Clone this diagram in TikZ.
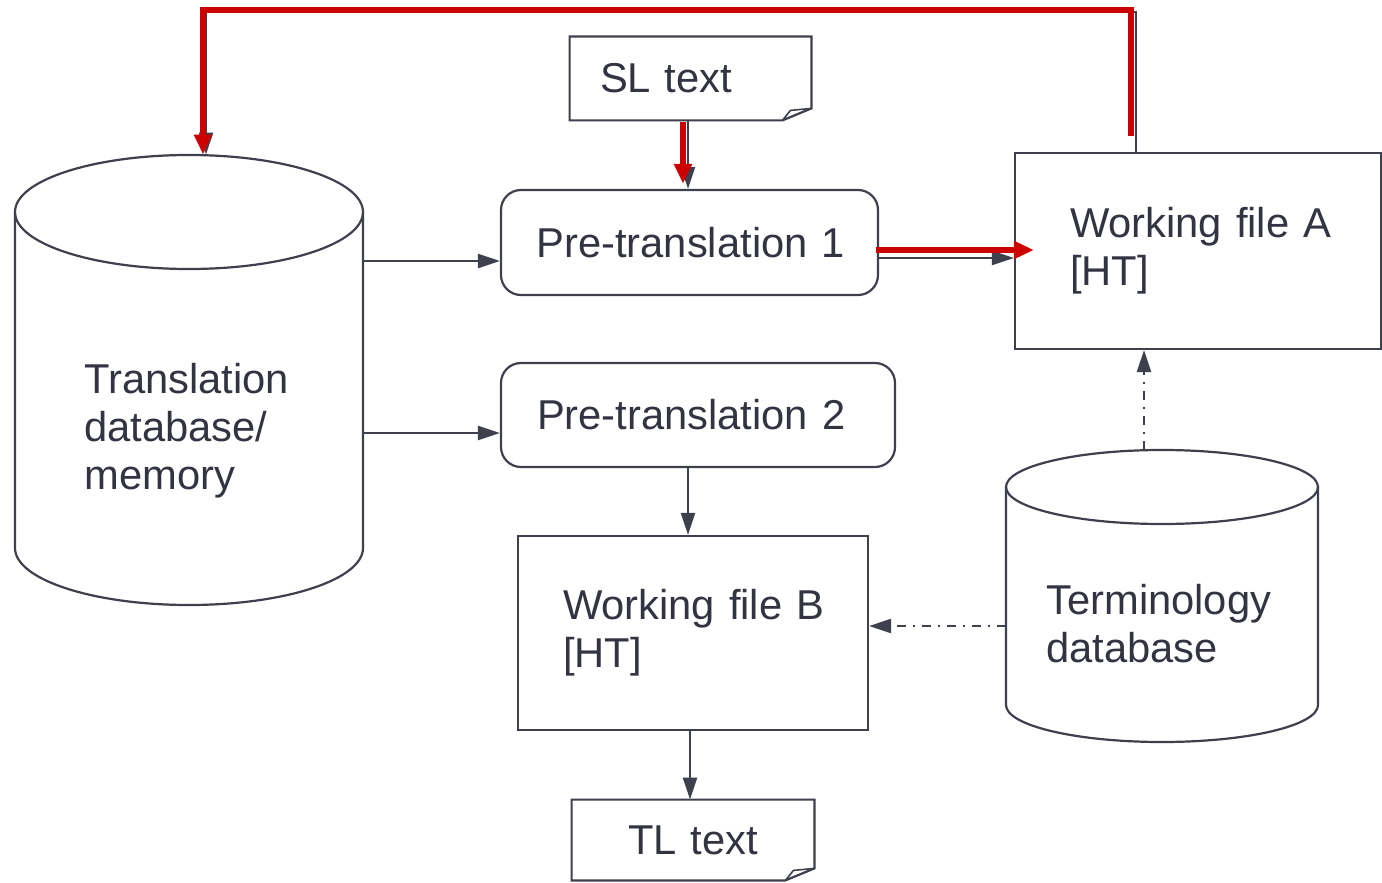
\documentclass[tikz,border=0pt]{standalone}
\usepackage{fontspec}
\setmainfont{Liberation Sans}
\usetikzlibrary{arrows.meta,calc}
\definecolor{ink}{RGB}{62,64,78}
\definecolor{txt}{RGB}{50,52,66}
\definecolor{mark}{RGB}{204,0,0}

\begin{document}
\begin{tikzpicture}[x=0.5pt,y=-0.5pt,
  inkline/.style={draw=ink, line width=1.1pt},
  arr/.style={inkline, -{Triangle[length=11pt,width=7pt]}},
  dashdot/.style={arr, dash pattern=on 4.5pt off 3.5pt on 1pt off 3.5pt},
  hl/.style={draw=mark, line width=2.6pt, -{Triangle[length=10pt,width=8.5pt]}},
  lbl/.style={font=\fontsize{20.85}{24}\selectfont, text=txt},
  proc/.style={inkline, lbl, rounded corners=10pt, inner ysep=0pt, align=left},
  filebox/.style={inkline, lbl, inner ysep=0pt, align=left},
  docbox/.style={lbl, inner ysep=0pt, align=left},
  area/.style={inner sep=0pt, draw=none},
]
\fill[white] (0,0) rectangle (1382,883);
\useasboundingbox (0,0) rectangle (1382,883);

% process boxes and working files
\node[proc, minimum width=188.5pt, minimum height=52.5pt, inner xsep=17.75pt, text width=153pt]
  (Pre1) at (689.5,242.5) {\mbox{Pre-translation 1}};
\node[proc, minimum width=197pt, minimum height=52pt, inner xsep=18pt, text width=161pt]
  (Pre2) at (698,415) {\mbox{Pre-translation 2}};
\node[filebox, minimum width=183pt, minimum height=98pt, inner xsep=27.5pt, text width=128pt]
  (WFA) at (1198,251) {\mbox{Working file A}\\\mbox{[HT]}};
\node[filebox, minimum width=175pt, minimum height=97pt, inner xsep=22.5pt, text width=130pt]
  (WFB) at (693,633) {\mbox{Working file B}\\\mbox{[HT]}};

% source and target documents (folded corner)
\node[docbox, minimum width=120.5pt, minimum height=41.5pt, inner xsep=15pt, text width=90.5pt]
  (SL) at (690.5,78.5) {\raisebox{-3.25pt}{SL text}};
\node[docbox, minimum width=121pt, minimum height=40pt, inner xsep=0pt, text width=121pt, align=center]
  (TL) at (693,840) {TL text};
\foreach \d in {SL,TL}{
  \draw[inkline] (\d.north west) -- (\d.north east) -- ([yshift=6pt]\d.south east)
    -- ([xshift=-14.5pt]\d.south east) -- (\d.south west) -- cycle;
  \draw[inkline, line width=0.8pt] ([xshift=-14.5pt]\d.south east)
    -- ([xshift=-10.5pt,yshift=5pt]\d.south east) -- ([yshift=6pt]\d.south east);
}

% translation memory cylinder
\node[area, minimum width=174pt, minimum height=225pt] (tdb) at (189,380) {};
\draw[inkline] (189,212) ellipse [x radius=174, y radius=57];
\draw[inkline] (15,212) -- (15,548) arc[start angle=180, end angle=0, x radius=174, y radius=57] -- (363,212);
\node[lbl, anchor=west, align=left, inner sep=0pt] (tdbtext) at (84,431) {Translation\\database/\\memory};

% terminology cylinder
\node[area, minimum width=156pt, minimum height=146pt] (term) at (1162,596) {};
\draw[inkline] (1162,487) ellipse [x radius=156, y radius=37];
\draw[inkline] (1006,487) -- (1006,705) arc[start angle=180, end angle=0, x radius=156, y radius=37] -- (1318,487);
\node[lbl, anchor=west, align=left, inner sep=0pt] (termtext) at (1046,624) {Terminology\\database};

% grey connectors
\coordinate (g1) at ([xshift=-1.25pt]SL.south);
\draw[arr] (g1) -- (g1 |- Pre1.north);
\coordinate (g2) at ([yshift=-7.75pt]Pre1.east);
\draw[arr] (g2) -- (g2 -| WFA.west);
\coordinate (t1) at ([yshift=-9.25pt]Pre1.west);
\draw[arr] (t1 -| tdb.east) -- (t1);
\coordinate (t2) at ([yshift=-9pt]Pre2.west);
\draw[arr] (t2 -| tdb.east) -- (t2);
\coordinate (p2) at ([xshift=-5pt]Pre2.south);
\draw[arr] (p2) -- (p2 |- WFB.north);
\coordinate (wb) at ([xshift=-1.5pt]WFB.south);
\draw[arr] (wb) -- (wb |- TL.north);
\coordinate (d1) at ([yshift=3.5pt]WFB.east);
\draw[dashdot] (d1 -| term.west) -- (d1);
\coordinate (d2) at ([xshift=-9pt]term.north);
\draw[dashdot] (d2) -- (d2 |- WFA.south);
\coordinate (gR) at (1136,12);
\coordinate (gL) at (206,12);
\draw[arr] (gR |- WFA.north) -- (gR) -- (gL) -- (gL |- tdb.north);

% red highlighted path
\coordinate (r1) at ([xshift=-3.75pt,yshift=-1pt]SL.south);
\draw[hl, shorten >=2.5pt] (r1) -- (r1 |- Pre1.north);
\coordinate (r2) at ([xshift=-1.5pt,yshift=-3.75pt]Pre1.east);
\coordinate (r2e) at (r2 -| WFA.west);
\draw[hl] (r2) -- ([xshift=10pt]r2e);
\coordinate (rtop) at ([xshift=-33.5pt,yshift=8pt]WFA.north);
\coordinate (loopR) at (1131,10);
\coordinate (loopL) at (203,10);
\draw[hl] (rtop) -- (loopR) -- (loopL) -- (loopL |- tdb.north);
\end{tikzpicture}
\end{document}
